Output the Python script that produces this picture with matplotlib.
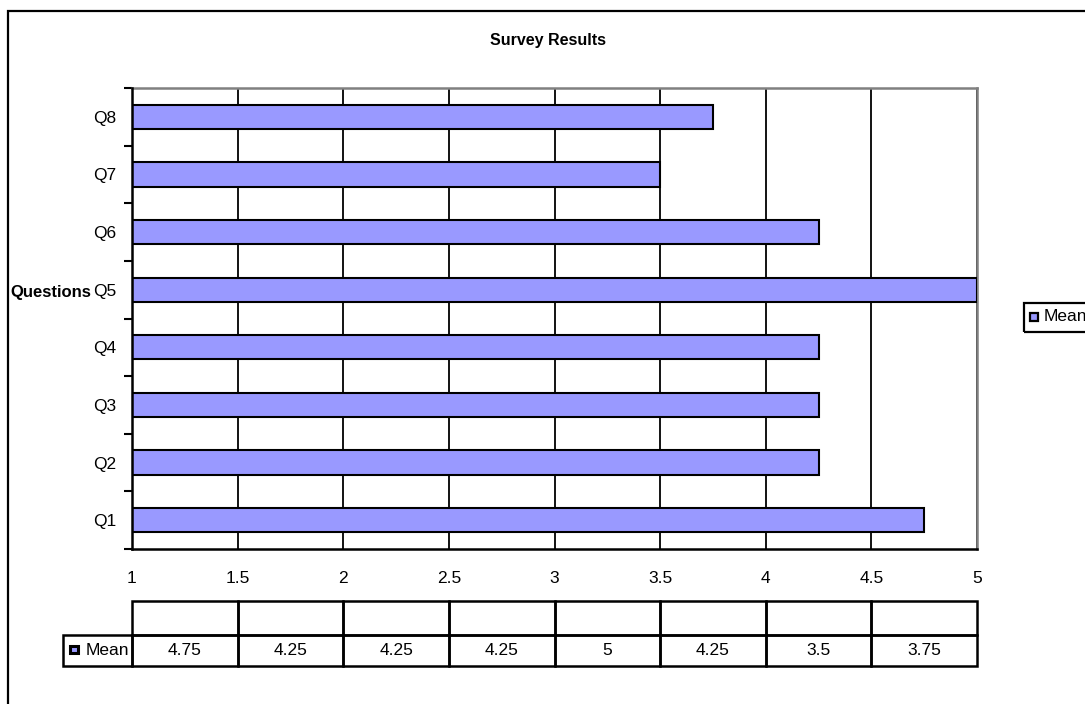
import matplotlib
matplotlib.use("Agg")
import matplotlib.pyplot as plt
from matplotlib.patches import Rectangle

plt.rcParams['font.family'] = ['Liberation Sans', 'DejaVu Sans']

# Data
questions = ["Q1", "Q2", "Q3", "Q4", "Q5", "Q6", "Q7", "Q8"]
means = [4.75, 4.25, 4.25, 4.25, 5, 4.25, 3.5, 3.75]
mean_labels = ["4.75", "4.25", "4.25", "4.25", "5", "4.25", "3.5", "3.75"]
x_ticks = [1, 1.5, 2, 2.5, 3, 3.5, 4, 4.5, 5]
x_tick_labels = ["1", "1.5", "2", "2.5", "3", "3.5", "4", "4.5", "5"]
series_name = "Mean"
title = "Survey Results"
y_title = "Questions"

W, H = 1085, 704
fig = plt.figure(figsize=(W / 100, H / 100), dpi=100)
BAR = "#9999FF"
FS = 12.5


def fx(px):
    return px / W


def fy(py):
    return 1 - py / H


# Outer chart frame
fig.patches.append(Rectangle((fx(8), fy(760)), fx(1200), fy(11) - fy(760),
                             transform=fig.transFigure, fill=False,
                             edgecolor="black", linewidth=1.6, zorder=0))

# Plot area
L, R, T, B = 132, 977, 88, 549
ax = fig.add_axes([fx(L), fy(B), fx(R) - fx(L), fy(T) - fy(B)])
ypos = list(range(len(questions)))
ax.barh(ypos, [m - 1 for m in means], left=1, height=0.42, color=BAR,
        edgecolor="black", linewidth=1.5, zorder=3)
ax.set_xlim(1, 5)
ax.set_ylim(-0.5, len(questions) - 0.5)
ax.set_xticks(x_ticks)
ax.set_xticklabels(x_tick_labels, fontsize=FS)
ax.set_yticks(ypos)
ax.set_yticklabels(questions, fontsize=FS)
ax.tick_params(axis="y", length=0, pad=11)
ax.tick_params(axis="x", length=0, pad=15.5)
# Boundary ticks between categories
ax.set_yticks([i - 0.5 for i in range(len(questions) + 1)], minor=True)
ax.tick_params(axis="y", which="minor", length=6, width=1.5, direction="out")
ax.set_xticks(x_ticks, minor=True)
ax.tick_params(axis="x", which="minor", length=8, width=1.5, direction="out")
ax.grid(axis="x", color="black", linewidth=1.3, zorder=1)
ax.set_axisbelow(True)
for side in ("left", "bottom"):
    ax.spines[side].set_color("black")
    ax.spines[side].set_linewidth(1.8)
    ax.spines[side].set_zorder(4)
for side in ("top", "right"):
    ax.spines[side].set_color("#808080")
    ax.spines[side].set_linewidth(1.8)

fig.text(fx(548), fy(40), title, ha="center", va="center",
         fontsize=11.5, fontweight="bold")
fig.text(fx(10), fy(292), y_title, ha="left", va="center",
         fontsize=12, fontweight="bold")

# Data table below the plot area
tab = fig.add_axes([fx(L), fy(666), fx(R) - fx(L), fy(604) - fy(666)])
tab.set_xlim(0, len(questions))
tab.set_ylim(0, 2)
tab.axis("off")
lw = 1.8
for i, lab in enumerate(mean_labels):
    for r in (0, 1):
        tab.add_patch(Rectangle((i, r), 1, 1 if r == 0 else 1.1, fill=False,
                                edgecolor="black", linewidth=lw, clip_on=False))
    tab.text(i + 0.5, 0.5, lab, ha="center", va="center", fontsize=FS)
# Legend key cell of the table
key_w = (L - 63) / ((R - L) / len(questions))
tab.add_patch(Rectangle((-key_w, 0), key_w, 1, fill=False, edgecolor="black",
                        linewidth=lw, clip_on=False))
tab.add_patch(Rectangle((-key_w + 0.07, 0.42), 0.07, 0.22, facecolor=BAR,
                        edgecolor="black", linewidth=2.2, clip_on=False))
tab.text(-key_w + 0.21, 0.5, series_name, ha="left", va="center", fontsize=FS)

# Legend box at the right
fig.patches.append(Rectangle((fx(1024), fy(332)), fx(100), fy(303) - fy(332),
                             transform=fig.transFigure, fill=False,
                             edgecolor="black", linewidth=1.6))
fig.patches.append(Rectangle((fx(1030), fy(321)), fx(8), fy(313) - fy(321),
                             transform=fig.transFigure, facecolor=BAR,
                             edgecolor="black", linewidth=1.6))
fig.text(fx(1044), fy(317), series_name, ha="left", va="center", fontsize=FS)

fig.savefig("out.png", dpi=100)
